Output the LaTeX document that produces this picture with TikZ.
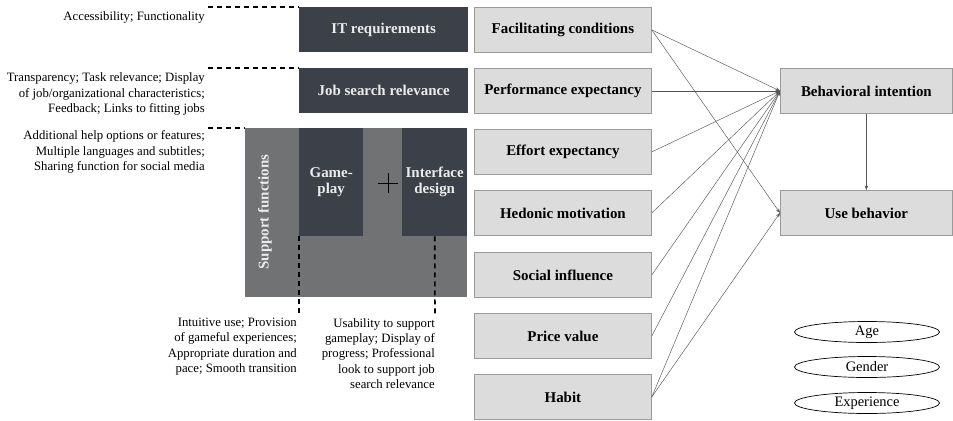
\documentclass[tikz,border=0pt]{standalone}
\usepackage{fontspec}
\setmainfont{Liberation Serif}
\usetikzlibrary{shapes.geometric,arrows.meta}
\definecolor{darkbox}{HTML}{3C4149}
\definecolor{midbox}{HTML}{707274}
\definecolor{lightbox}{HTML}{DCDCDC}
\definecolor{lightedge}{HTML}{9A9A9A}
\definecolor{linkgray}{HTML}{555555}
\tikzset{
  darknode/.style={fill=darkbox, text=white!92!black, font=\fontsize{15}{17}\selectfont\bfseries,
    minimum width=169bp, minimum height=45bp, inner sep=0pt, anchor=north west, align=center},
  construct/.style={fill=lightbox, draw=lightedge, line width=0.8bp, font=\fontsize{15}{17}\selectfont\bfseries,
    minimum width=177bp, minimum height=45bp, inner sep=0pt, anchor=north west},
  outcome/.style={construct, minimum width=172bp},
  moderator/.style={ellipse, draw, line width=0.7bp, minimum width=145bp, minimum height=21bp,
    inner sep=0pt, font=\fontsize{14.5}{16}\selectfont},
  note/.style={font=\fontsize{12.8}{15.4}\selectfont, align=right, inner sep=0pt},
  guide/.style={dashed, line width=1.6bp, dash pattern=on 5bp off 4bp},
  link/.style={draw=linkgray, line width=0.45bp, -{Stealth[length=4.5bp,width=3.5bp]}}
}
\begin{document}
\begin{tikzpicture}[x=1bp,y=-1bp]
\useasboundingbox (0,0) rectangle (953,420);

% design elements
\node[darknode] (itreq) at (299,7) {IT requirements};
\node[darknode] (jobrel) at (299,68) {Job search relevance};
\node[fill=midbox, minimum width=222bp, minimum height=169bp, inner sep=0pt, anchor=north west] (support) at (245,128) {};
\node[rotate=90, text=white!92!black, font=\fontsize{15}{17}\selectfont\bfseries] (suplabel) at (265,212) {Support functions};
\node[darknode, minimum width=64bp, minimum height=108bp] (gameplay) at (299,128) {Game-\\[-1pt]play};
\node[darknode, minimum width=65bp, minimum height=108bp] (iface) at (402,128) {Interface\\[-1pt]design};
\coordinate (plus) at (388,183);
\draw[line width=0.7bp] ([xshift=-10bp]plus) -- ([xshift=10bp]plus) ([yshift=-10bp]plus) -- ([yshift=10bp]plus);

% requirement notes
\node[note, anchor=east] (n1) at (205,17) {Accessibility; Functionality};
\node[note, anchor=east] (n2) at (205,94) {Transparency; Task relevance; Display\\of job/organizational characteristics;\\Feedback; Links to fitting jobs};
\node[note, anchor=east] (n3) at (205,152) {Additional help options or features;\\Multiple languages and subtitles;\\Sharing function for social media};
\node[note, anchor=north east] (n4) at (297,318) {Intuitive use; Provision\\of gameful experiences;\\Appropriate duration and\\pace; Smooth transition};
\node[note, anchor=north east] (n5) at (435,318) {Usability to support\\gameplay; Display of\\progress; Professional\\look to support job\\search relevance};

\coordinate (d1) at (208,7);
\coordinate (d2) at (208,68);
\coordinate (d3) at (208,128);
\coordinate (d4) at (299,316);
\coordinate (d5) at (435,316);
\draw[guide] (d1) -- (itreq.north west);
\draw[guide] (d2) -- (jobrel.north west);
\draw[guide] (d3) -- (support.north west);
\draw[guide] (gameplay.south west) -- (d4);
\draw[guide] (iface.south) -- (d5);

% UTAUT2 constructs
\node[construct] (fc) at (474,7) {Facilitating conditions};
\node[construct] (pe) at (474,68) {Performance expectancy};
\node[construct] (ee) at (474,129) {Effort expectancy};
\node[construct] (hm) at (474,190) {Hedonic motivation};
\node[construct] (si) at (474,252) {Social influence};
\node[construct] (pv) at (474,313) {Price value};
\node[construct] (hb) at (474,374) {Habit};
\node[outcome] (bi) at (780,68) {Behavioral intention};
\node[outcome] (ub) at (780,190) {Use behavior};

\foreach \src in {fc,pe,ee,hm,si,pv,hb}
  \draw[link] (\src.east) -- (bi.west);
\draw[link] (fc.east) -- (ub.west);
\draw[link] (hb.east) -- (ub.west);
\draw[link] (bi.south) -- (ub.north);

% moderators
\node[moderator] (age) at (867,332) {Age};
\node[moderator] (gender) at (867,367) {Gender};
\node[moderator] (exp) at (867,403) {Experience};
\end{tikzpicture}
\end{document}
